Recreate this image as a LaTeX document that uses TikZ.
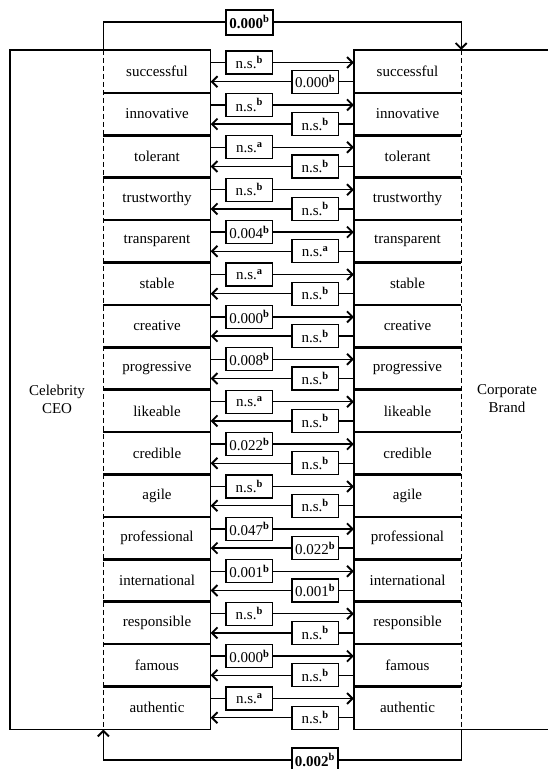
\documentclass[tikz,border=0pt]{standalone}
\usepackage{fontspec}
\setmainfont{Liberation Serif}
\usetikzlibrary{arrows.meta}

\begin{document}
\begin{tikzpicture}[x=1pt,y=-1pt,font=\fontsize{15}{18}\selectfont,line width=1.3pt]
    \tikzstyle{attr}=[rectangle,minimum width=106pt,minimum height=42.4pt,inner sep=0pt]
    \tikzstyle{pval}=[rectangle,draw,fill=white,minimum width=46.5pt,minimum height=23pt,inner sep=1pt]
    \tikzstyle{pbold}=[pval,line width=2pt,minimum height=25pt,font=\fontsize{15}{18}\selectfont\bfseries]
    \tikzstyle{link}=[-{Straight Barb[length=5.5pt,width=11pt,line width=1.9pt]}]
    \useasboundingbox (0,0) rectangle (547,769);
    \foreach \name/\fw/\fs/\bw/\bs [count=\i] in {successful/n.s./b/0.000/b, innovative/n.s./b/n.s./b, tolerant/n.s./a/n.s./b, trustworthy/n.s./b/n.s./b, transparent/0.004/b/n.s./a, stable/n.s./a/n.s./b, creative/0.000/b/n.s./b, progressive/0.008/b/n.s./b, likeable/n.s./a/n.s./b, credible/0.022/b/n.s./b, agile/n.s./b/n.s./b, professional/0.047/b/0.022/b, international/0.001/b/0.001/b, responsible/n.s./b/n.s./b, famous/0.000/b/n.s./b, authentic/n.s./a/n.s./b} {
      \pgfmathsetmacro{\y}{71.7+(\i-1)*42.4}
      \node[attr] (c\i) at (157,\y) {\name};
      \node[attr] (b\i) at (407.5,\y) {\name};
      \draw (c\i.north west) -- (c\i.north east) -- (c\i.south east) -- (c\i.south west);
      \draw (b\i.north east) -- (b\i.north west) -- (b\i.south west) -- (b\i.south east);
      \draw[link] ([yshift=9.2pt]c\i.east) -- node[pval,pos=0.27] {\fw\textsuperscript{\textbf{\fs}}} ([yshift=9.2pt]b\i.west);
      \draw[link] ([yshift=-10pt]b\i.west) -- node[pval,pos=0.27] {\bw\textsuperscript{\textbf{\bs}}} ([yshift=-10pt]c\i.east);
    }
    \coordinate (ceoedge) at (10,0);
    \draw (c1.north west) -| (ceoedge |- c16.south) -- (c16.south west);
    \draw (b1.north east) -- ++(100,0);
    \draw (b16.south east) -- ++(100,0);
    \draw[dashed,dash pattern=on 5pt off 3pt] (c1.north west) -- (c16.south west);
    \draw[dashed,dash pattern=on 5pt off 3pt] (b1.north east) -- (b16.south east);
    \node[align=center] (ceo) at (57,399) {Celebrity\\CEO};
    \node[align=center] (brand) at (507,399) {Corporate\\Brand};
    \node[pbold] (ptop) at (249.5,22) {0.000\textsuperscript{b}};
    \node[pbold] (pbot) at (315,760) {0.002\textsuperscript{b}};
    \draw[link] (c1.north west) |- (ptop) -| (b1.north east);
    \draw[link] (b16.south east) |- (pbot) -| (c16.south west);
  \end{tikzpicture}
\end{document}
